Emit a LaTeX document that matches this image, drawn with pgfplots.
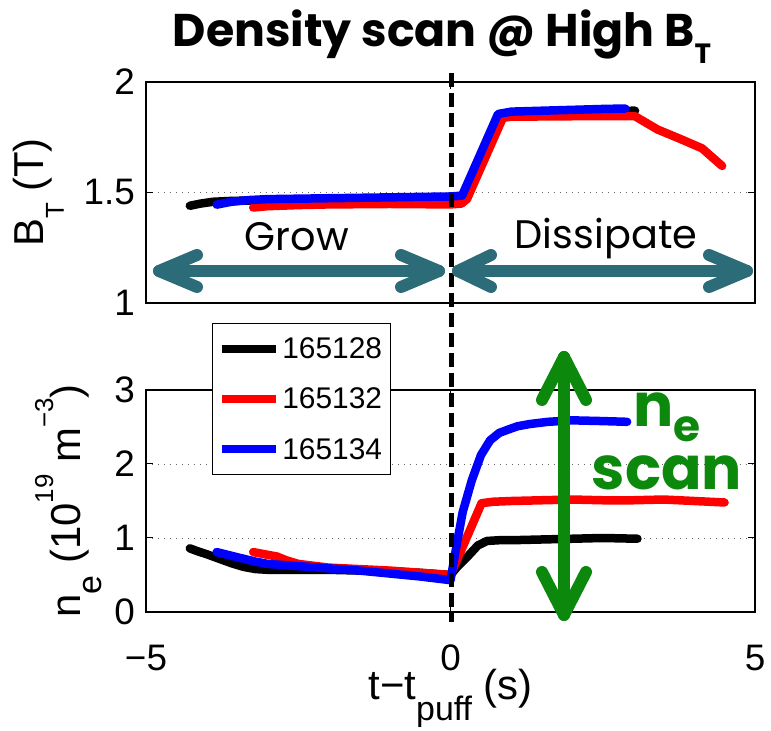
\documentclass[border=0pt]{standalone}
\usepackage{fontspec}
\setmainfont{Liberation Sans}
\newfontfamily\gothic{Poppins}
\usepackage{pgfplots}
\pgfplotsset{compat=1.18}
\definecolor{tealarrow}{RGB}{44,107,120}
\definecolor{greenarrow}{RGB}{12,136,12}
\newcommand{\lab}{\fontsize{42}{46}\selectfont}
\pgfplotstableread{
t b
-4.28 1.440
-4.10 1.450
-3.90 1.458
-3.60 1.462
-3.00 1.465
-2.00 1.468
-1.00 1.470
0.00 1.472
0.20 1.476
0.50 1.660
0.82 1.855
1.00 1.862
2.00 1.868
3.03 1.870
}\btblack
\pgfplotstableread{
t b
-3.24 1.432
-3.00 1.438
-2.50 1.443
-2.00 1.446
-1.00 1.448
0.00 1.446
0.18 1.450
0.27 1.470
0.86 1.838
1.00 1.843
2.00 1.845
3.03 1.845
3.40 1.785
3.75 1.745
4.13 1.700
4.46 1.620
}\btred
\pgfplotstableread{
t b
-3.84 1.445
-3.60 1.458
-3.30 1.466
-3.00 1.470
-2.00 1.474
-1.00 1.478
0.00 1.482
0.19 1.486
0.78 1.855
1.00 1.866
1.50 1.870
2.00 1.874
2.50 1.878
2.87 1.880
}\btblue
\pgfplotstableread{
t n
-4.28 0.86
-4.15 0.82
-4.00 0.78
-3.80 0.72
-3.60 0.66
-3.40 0.61
-3.20 0.58
-3.00 0.57
-2.50 0.57
-2.00 0.57
-1.50 0.56
-1.00 0.55
-0.50 0.53
0.00 0.50
0.10 0.60
0.27 0.74
0.45 0.90
0.60 0.96
0.80 0.97
1.00 0.97
1.50 0.98
2.00 0.99
2.50 1.00
3.07 0.99
}\neblack
\pgfplotstableread{
t n
-3.24 0.81
-3.05 0.78
-2.85 0.75
-2.70 0.70
-2.50 0.65
-2.20 0.62
-2.00 0.60
-1.50 0.58
-1.00 0.56
-0.50 0.53
0.00 0.50
0.51 1.47
0.70 1.49
1.00 1.50
1.50 1.51
2.00 1.52
2.50 1.51
3.00 1.51
3.50 1.52
4.00 1.50
4.50 1.48
}\nered
\pgfplotstableread{
t n
-3.84 0.81
-3.60 0.76
-3.40 0.72
-3.20 0.68
-3.00 0.65
-2.50 0.62
-2.00 0.59
-1.50 0.56
-1.00 0.52
-0.50 0.48
0.00 0.43
0.10 0.90
0.20 1.35
0.35 1.78
0.50 2.12
0.65 2.32
0.80 2.42
0.93 2.46
1.10 2.51
1.30 2.54
1.60 2.57
2.00 2.59
2.50 2.58
2.90 2.57
}\neblue
\pgfplotsset{
 myax/.style={
  scale only axis, width=609bp,
  xmin=-5, xmax=5, xtick={-5,0,5},
  axis line style={line width=1.2bp},
  every tick/.style={black, line width=1bp},
  major tick length=7bp,
  tick align=inside,
  ymajorgrids, grid style={black!60, line width=0.9bp, dash pattern=on 1bp off 5bp},
  tick label style={font=\fontsize{37}{37}\selectfont},
  /pgf/number format/assume math mode=true,
  yticklabel style={anchor=east, inner sep=0pt, xshift=-11bp},
  xticklabel style={anchor=base, inner sep=0pt, yshift=-58bp},
  label style={font=\lab},
 },
 dat/.style={line width=8.5bp, line join=round, line cap=round},
}
\begin{document}
\begin{tikzpicture}
\path[use as bounding box] (0,0) rectangle (771bp,731bp);
% top axis
\begin{axis}[myax, at={(146bp,428bp)}, anchor=south west,
  height=221bp, ymin=1, ymax=2, ytick={1,1.5,2}, yticklabels={1,1.5,2},
  xticklabels={},
  ylabel={B\raisebox{-0.5em}{\fontsize{26}{26}\selectfont T} (T)},
  ylabel style={at={(axis description cs:-0.169,0.5)}, anchor=base}]
\addplot[dat, black] table[x=t,y=b] {\btblack};
\addplot[dat, red] table[x=t,y=b] {\btred};
\addplot[dat, blue] table[x=t,y=b] {\btblue};
\end{axis}
% bottom axis
\begin{axis}[myax, at={(146bp,119bp)}, anchor=south west,
  height=222bp, ymin=0, ymax=3, ytick={0,1,2,3}, yticklabels={0,1,2,3},
  xticklabels={−5,0,5},
  ylabel={n\raisebox{-0.5em}{\fontsize{34}{34}\selectfont e} (10\raisebox{0.65em}{\fontsize{26}{26}\selectfont 19} m\raisebox{0.65em}{\fontsize{26}{26}\selectfont −3})},
  ylabel style={at={(axis description cs:-0.108,0.5)}, anchor=base},
  xlabel={t−t\raisebox{-0.5em}{\fontsize{34}{34}\selectfont puff} (s)},
  xlabel style={at={(axis description cs:0.5,-0.396)}, anchor=base},
  legend style={at={(axis description cs:0.108,1.302)}, anchor=north west,
    draw=black, line width=1.2bp, fill=white,
    font=\fontsize{30}{30}\selectfont,
    inner xsep=6bp, inner ysep=12bp, row sep=24bp,
    nodes={inner sep=2bp}},
  legend cell align=left,
  legend image code/.code={\draw[#1, line width=8bp, line cap=butt] (0bp,0bp) -- (54bp,0bp);}]
\addplot[dat, black] table[x=t,y=n] {\neblack};
\addplot[dat, red] table[x=t,y=n] {\nered};
\addplot[dat, blue] table[x=t,y=n] {\neblue};
\legend{165128,165132,165134}
\end{axis}
% annotations (pixel-like coordinates, y downward)
\begin{scope}[x=1bp, y=-1bp, yshift=731bp]
\node[anchor=base, font=\gothic\bfseries\fontsize{46}{46}\selectfont] at (442,47)
  {Density scan @ High B\raisebox{-0.35em}{\fontsize{28}{28}\selectfont T}};
\draw[black, line width=5bp, dash pattern=on 14bp off 6bp] (451,73) -- (451,622);
\begin{scope}[tealarrow, line width=12bp, line cap=round, line join=round]
\draw (159,271) -- (439,271);
\draw (197,255) -- (159,271) -- (197,287);
\draw (401,255) -- (439,271) -- (401,287);
\draw (458,271) -- (747,271);
\draw (491,255) -- (458,271) -- (491,287);
\draw (709,255) -- (747,271) -- (709,287);
\end{scope}
\node[anchor=base, font=\gothic\fontsize{40}{40}\selectfont] at (297,251) {Grow};
\node[anchor=base, font=\gothic\fontsize{40}{40}\selectfont] at (606,249) {Dissipate};
\begin{scope}[greenarrow, line width=12bp, line cap=round, line join=round]
\draw (564,357) -- (564,615);
\draw (542,400) -- (564,357) -- (586,400);
\draw (542,572) -- (564,615) -- (586,572);
\end{scope}
\node[anchor=south, inner sep=0pt, align=center, text=greenarrow, font=\gothic\bfseries\fontsize{60}{63}\selectfont] at (667,490)
  {n\raisebox{-0.25em}{\fontsize{44}{44}\selectfont e}\\scan};
\end{scope}
\end{tikzpicture}
\end{document}
